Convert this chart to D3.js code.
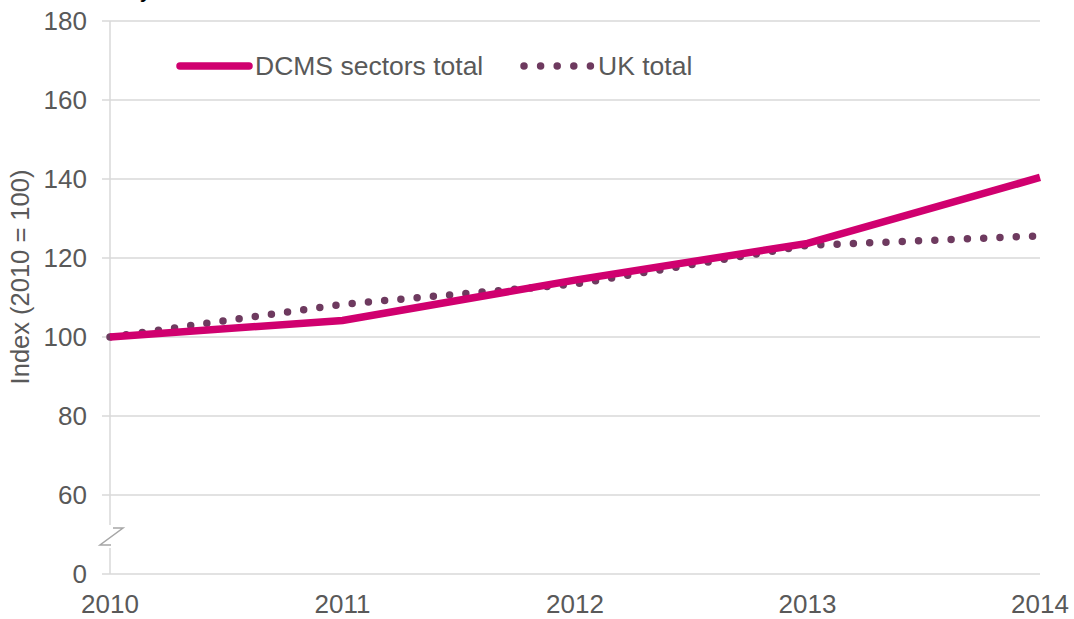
<!DOCTYPE html>
<html>
<head>
<meta charset="utf-8">
<script src="https://cdn.jsdelivr.net/npm/d3@7"></script>
<style>
  body { margin: 0; background: #fff; }
  text { font-family: "Liberation Sans", Arial, sans-serif; fill: #595959; }
</style>
</head>
<body>
<svg id="chart" width="1074" height="619"></svg>
<script>
// data
var years = [2010, 2011, 2012, 2013, 2014];
var dcmsTotal = [100, 104.2, 114.4, 123.7, 140.4];
var ukTotal = [100, 108.3, 113.4, 123.2, 125.6];
var yTicks = [0, 60, 80, 100, 120, 140, 160, 180];
var seriesNames = ["DCMS sectors total", "UK total"];

var pink = "#d0006f", plum = "#6e3a5f", grid = "#d9d9d9";

var svg = d3.select("#chart");

var x = d3.scaleLinear().domain([2010, 2014]).range([110, 1040]);
// broken axis: 0 sits one step below 60
var y = d3.scaleLinear().domain([0, 60, 180]).range([574, 495, 21]);

// cropped title, only the tail shows
svg.append("text").attr("x", 140).attr("y", -3)
  .style("font-size", "25px").style("fill", "#000").text("y");

// gridlines
svg.selectAll(".grid")
  .data(yTicks)
  .enter()
  .append("line")
  .attr("x1", 102).attr("x2", x(2014))
  .attr("y1", function(d) { return y(d); })
  .attr("y2", function(d) { return y(d); })
  .attr("stroke", grid).attr("stroke-width", 1.5);

// y axis line with break
svg.append("line").attr("x1", x(2010)).attr("x2", x(2010))
  .attr("y1", y(180)).attr("y2", y(60) + 30)
  .attr("stroke", grid).attr("stroke-width", 1.5);
svg.append("line").attr("x1", x(2010)).attr("x2", x(2010))
  .attr("y1", y(0) - 26).attr("y2", y(0))
  .attr("stroke", grid).attr("stroke-width", 1.5);
var bx = x(2010), by = y(60) + 33;
svg.append("path")
  .attr("d", "M" + (bx + 3) + "," + by + "H" + (bx + 13) + "L" + (bx - 10) + "," + (by + 17) + "H" + (bx + 1))
  .attr("fill", "none").attr("stroke", "#a6a6a6").attr("stroke-width", 1.5);

// y tick labels
svg.selectAll(".ylab")
  .data(yTicks)
  .enter()
  .append("text")
  .attr("x", 87)
  .attr("y", function(d) { return y(d); })
  .attr("dy", "0.35em")
  .attr("text-anchor", "end")
  .style("font-size", "26px")
  .text(function(d) { return d; });

// x tick labels
svg.selectAll(".xlab")
  .data(years)
  .enter()
  .append("text")
  .attr("x", function(d) { return x(d); })
  .attr("y", 613)
  .attr("text-anchor", "middle")
  .style("font-size", "26px")
  .text(function(d) { return d; });

// y axis title
svg.append("text")
  .attr("transform", "translate(29,277) rotate(-90)")
  .attr("text-anchor", "middle")
  .style("font-size", "25.5px")
  .text("Index (2010 = 100)");

var line = d3.line()
  .x(function(d, i) { return x(years[i]); })
  .y(function(d) { return y(d); });

svg.append("path")
  .datum(ukTotal)
  .attr("d", line)
  .attr("fill", "none")
  .attr("stroke", plum)
  .attr("stroke-width", 7.5)
  .attr("stroke-linecap", "round")
  .attr("stroke-dasharray", "0 16.3");

svg.append("path")
  .datum(dcmsTotal)
  .attr("d", line)
  .attr("fill", "none")
  .attr("stroke", pink)
  .attr("stroke-width", 7.5);

// legend
var lg = svg.append("g");
lg.append("line").attr("x1", 180).attr("x2", 249).attr("y1", 66).attr("y2", 66)
  .attr("stroke", pink).attr("stroke-width", 7.5).attr("stroke-linecap", "round");
lg.append("text").attr("x", 255).attr("y", 75).style("font-size", "26.5px").text(seriesNames[0]);
lg.append("line").attr("x1", 524).attr("x2", 591).attr("y1", 66).attr("y2", 66)
  .attr("stroke", plum).attr("stroke-width", 7.5).attr("stroke-linecap", "round")
  .attr("stroke-dasharray", "0 16.6");
lg.append("text").attr("x", 598).attr("y", 75).style("font-size", "26.5px").text(seriesNames[1]);
</script>
</body>
</html>
